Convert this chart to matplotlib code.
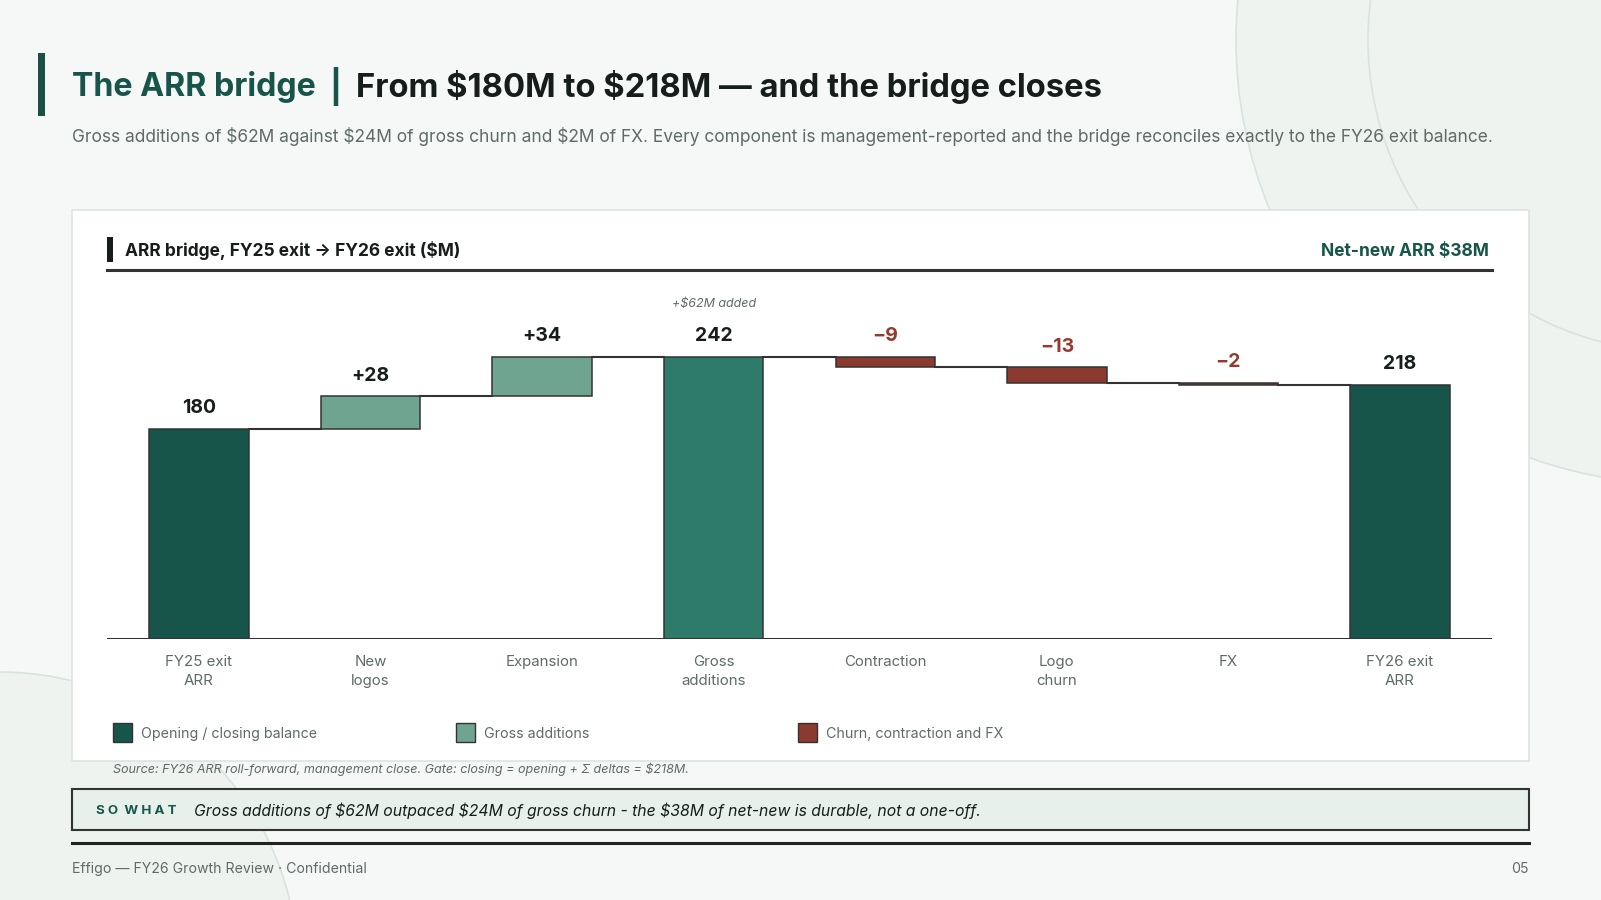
import matplotlib.pyplot as plt
from matplotlib.patches import Rectangle, Circle
import numpy as np

plt.rcParams['font.family'] = ['Inter', 'DejaVu Sans']
plt.rcParams['text.parse_math'] = False

# chart data
categories = ['FY25 exit\nARR', 'New\nlogos', 'Expansion', 'Gross\nadditions',
              'Contraction', 'Logo\nchurn', 'FX', 'FY26 exit\nARR']
kinds = ['total', 'up', 'up', 'subtotal', 'down', 'down', 'down', 'total']
values = [180, 28, 34, 242, -9, -13, -2, 218]
value_labels = ['180', '+28', '+34', '242', '\u22129', '\u221213', '\u22122', '218']
legend_labels = ['Opening / closing balance', 'Gross additions', 'Churn, contraction and FX']

colors = {'total': '#17544a', 'subtotal': '#2e7b6a', 'up': '#6fa590', 'down': '#8a3a2f'}
INK = '#161d1b'
GREEN = '#17544a'
GREY = '#5e6b66'
RED = '#963a2e'

W, H = 1601, 900
fig = plt.figure(figsize=(W / 100, H / 100), dpi=100, facecolor='#f6f8f7')

# background layer in pixel coords
bg = fig.add_axes([0, 0, 1, 1])
bg.set_xlim(0, W)
bg.set_ylim(H, 0)
bg.axis('off')
bg.set_zorder(0)

for cx, cy, r in [(1680, 40, 444), (1680, 40, 312), (0, 970, 298)]:
    bg.add_patch(Circle((cx, cy), r, fc='#eef3f0', ec='#d9e3de', lw=1.2, zorder=0))

# title
bg.add_patch(Rectangle((38, 53), 7, 63, fc='#1d5045', zorder=3))
ty = 87
t1 = bg.text(72, ty, 'The ARR bridge', fontsize=23.2, fontweight='bold', color=GREEN, va='center')
fig.canvas.draw()
rend = fig.canvas.get_renderer()
x_end = bg.transData.inverted().transform(t1.get_window_extent(rend))[1][0]
t2 = bg.text(x_end + 14, ty, '|', fontsize=23.2, fontweight='bold', color=GREEN, va='center')
x_end = bg.transData.inverted().transform(t2.get_window_extent(rend))[1][0]
bg.text(x_end + 14, ty, 'From $180M to $218M \u2014 and the bridge closes', fontsize=23.6,
        fontweight='bold', color=INK, va='center')
bg.text(72, 136, 'Gross additions of $62M against $24M of gross churn and $2M of FX. Every component '
        'is management-reported and the bridge reconciles exactly to the FY26 exit balance.',
        fontsize=12.5, color=GREY, va='center')

# card
bg.add_patch(Rectangle((71.5, 209.5), 1457.5, 551.5, fc='white', ec='#dde4e0', lw=1.2, zorder=2))
bg.add_patch(Rectangle((107, 237), 6, 25, fc=INK, zorder=3))
bg.text(125, 251, 'ARR bridge, FY25 exit \u2192 FY26 exit ($M)', fontsize=12.5, fontweight='bold',
        color=INK, va='center', zorder=3)
bg.text(1489, 252, 'Net-new ARR $38M', fontsize=12.5, fontweight='bold', color=GREEN,
        va='center', ha='right', zorder=3)
bg.plot([107, 1492], [270, 270], color='#333333', lw=2.2, zorder=3)

# legend
leg_colors = [colors['total'], colors['up'], colors['down']]
for i, (lab, c) in enumerate(zip(legend_labels, leg_colors)):
    x0 = 113 + i * 342.5
    bg.add_patch(Rectangle((x0, 723), 19, 19, fc=c, ec='#333333', lw=1, zorder=3))
    bg.text(x0 + 28, 734, lab, fontsize=10.25, color=GREY, va='center', zorder=3)

bg.text(113, 769, 'Source: FY26 ARR roll-forward, management close. Gate: closing = opening + '
        '\u03a3 deltas = $218M.', fontsize=9.05, style='italic', color=GREY, va='center', zorder=3)

# so what box
bg.add_patch(Rectangle((71.5, 789), 1457.5, 41, fc='#e8f0eb', ec='#333333', lw=1.5, zorder=3))
bg.text(96, 811, 'S O  W H A T', fontsize=9.6, fontweight='bold', color=GREEN, va='center', zorder=4)
bg.text(194, 811, 'Gross additions of $62M outpaced $24M of gross churn - the $38M of net-new is '
        'durable, not a one-off.', fontsize=11.35, style='italic', color=INK, va='center', zorder=4)
bg.plot([71.5, 1529], [843, 843], color='#222222', lw=2.2, zorder=3)
bg.text(72, 869, 'Effigo \u2014 FY26 Growth Review \u00b7 Confidential', fontsize=10.15,
        color=GREY, va='center')
bg.text(1529, 869, '05', fontsize=10.15, color=GREY, va='center', ha='right')

# chart axes
base_y, top_y, left_x, right_x = 638.5, 290, 107, 1492
ax = fig.add_axes([left_x / W, 1 - base_y / H, (right_x - left_x) / W, (base_y - top_y) / H])
ax.set_zorder(1)
ax.patch.set_alpha(0)
px_per_unit = 1.1636
ax.set_ylim(0, (base_y - top_y) / px_per_unit)
ax.set_xlim(-0.536, len(categories) - 1 + 0.536)

x = np.arange(len(categories))
bottoms, heights, ends = [], [], []
running = 0
for v, k in zip(values, kinds):
    if k in ('total', 'subtotal'):
        bottoms.append(0)
        heights.append(v)
        running = v
    else:
        bottoms.append(running if v > 0 else running + v)
        heights.append(abs(v))
        running += v
    ends.append(running)

width = 0.58
ax.bar(x, heights, width, bottom=bottoms, color=[colors[k] for k in kinds],
       edgecolor='#333333', linewidth=1.1, zorder=2)

# connectors
for i in range(len(x) - 1):
    ax.plot([x[i] + width / 2, x[i + 1] - width / 2], [ends[i], ends[i]],
            color='#333333', lw=1.5, zorder=1)

for i, lab in enumerate(value_labels):
    top = bottoms[i] + heights[i]
    c = RED if kinds[i] == 'down' else INK
    ax.annotate(lab, (x[i], top), xytext=(0, 15), textcoords='offset points',
                ha='center', va='center', fontsize=14, fontweight='bold', color=c)
ax.annotate('+$62M added', (x[3], bottoms[3] + heights[3]), xytext=(0, 38),
            textcoords='offset points', ha='center', va='center', fontsize=9,
            style='italic', color=GREY)

ax.axhline(0, color='#333333', lw=2.2, zorder=3)
for s in ax.spines.values():
    s.set_visible(False)
ax.set_yticks([])
ax.set_xticks(x)
ax.set_xticklabels(categories, fontsize=10.8, color=GREY, linespacing=1.4, va='top')
ax.tick_params(axis='x', length=0, pad=12)

fig.savefig('out.png', dpi=100, facecolor=fig.get_facecolor())
